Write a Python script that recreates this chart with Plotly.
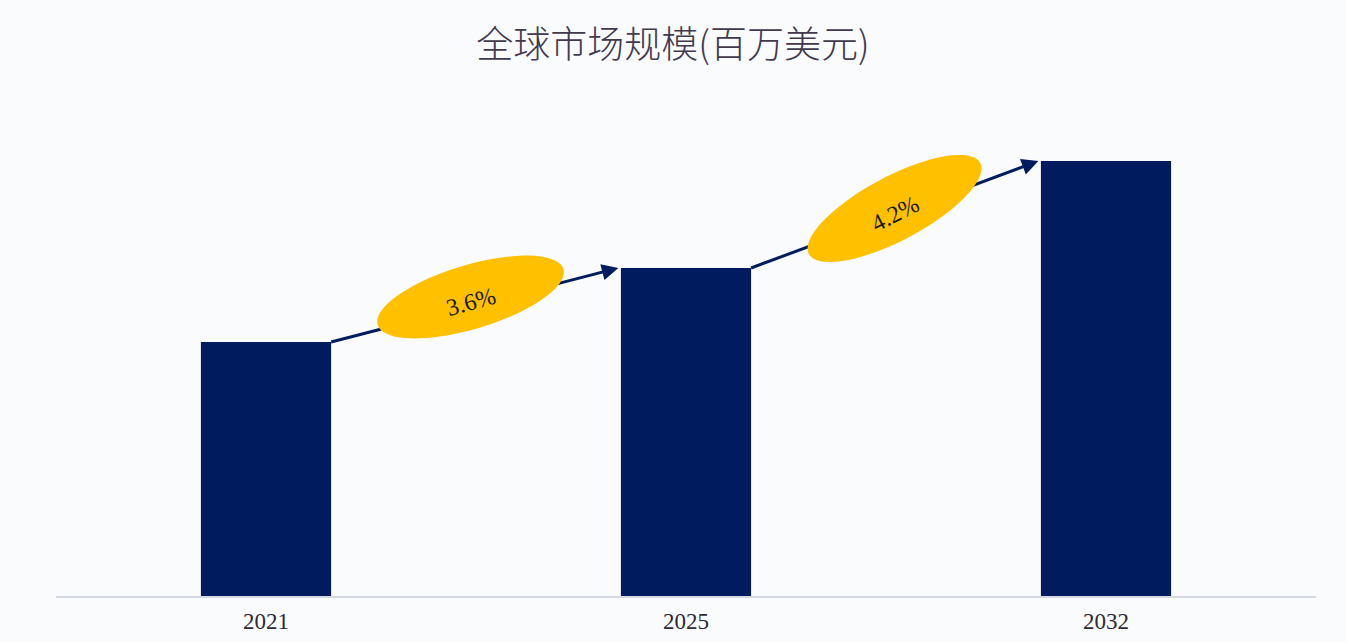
import numpy as np
import plotly.graph_objects as go

# data
years = ["2021", "2025", "2032"]
market_size = [2540, 3280, 4350]
cagr_labels = ["3.6%", "4.2%"]

title = "全球市场规模(百万美元)"
bar_color = "#001c5e"
gold = "#ffc000"

W, H = 1346, 642
ml, mr, mt, mb = 56, 30, 96, 46
y_max = 5000
bar_w = 0.31

# pixel scales, used to draw the rotated ellipses in data units
px_x = (W - ml - mr) / len(years)
px_y = (H - mt - mb) / y_max

xs = list(range(len(years)))

fig = go.Figure()
fig.add_trace(go.Bar(x=xs, y=market_size, width=bar_w,
                     marker=dict(color=bar_color, line=dict(width=0)),
                     hoverinfo="x+y"))

shapes = []
annotations = []


def ellipse_path(cx, cy, a, b, ang):
    t = np.linspace(0, 2 * np.pi, 80)
    th = np.radians(ang)
    ex = a * np.cos(t) * np.cos(th) - b * np.sin(t) * np.sin(th)
    ey = a * np.cos(t) * np.sin(th) + b * np.sin(t) * np.cos(th)
    pts = ["%.4f,%.2f" % (cx + dx / px_x, cy + dy / px_y) for dx, dy in zip(ex, ey)]
    return "M " + " L ".join(pts) + " Z"


ell_angle = [16.7, 28]
ell_shift = [8, 6]     # pixels above the arrow line
ell_dx = [0, 4]        # pixels sideways
for i, lab in enumerate(cagr_labels):
    x0, y0 = xs[i] + bar_w / 2, market_size[i]
    x1, y1 = xs[i + 1] - bar_w / 2 - 0.006, market_size[i + 1]
    # arrow line
    shapes.append(dict(type="line", xref="x", yref="y", x0=x0, y0=y0, x1=x1 - 0.02,
                       y1=y0 + (y1 - y0) * (x1 - 0.02 - x0) / (x1 - x0),
                       line=dict(color=bar_color, width=3), layer="above"))
    # ellipse
    cx = (x0 + x1) / 2 - 0.01 + ell_dx[i] / px_x
    cy = (y0 + y1) / 2 + ell_shift[i] / px_y
    shapes.append(dict(type="path", xref="x", yref="y",
                       path=ellipse_path(cx, cy, 97, 32, ell_angle[i]),
                       fillcolor=gold, line=dict(width=0), layer="above"))
    # arrow head
    annotations.append(dict(x=x1, y=y1, xref="x", yref="y",
                            ax=x1 - 0.04, ay=y1 - (y1 - y0) * 0.04 / (x1 - x0),
                            axref="x", ayref="y", text="", showarrow=True,
                            arrowhead=2, arrowsize=1.1, arrowwidth=3,
                            arrowcolor=bar_color))
    annotations.append(dict(x=cx, y=cy - 5 / px_y, xref="x", yref="y", text=lab,
                            showarrow=False, textangle=-ell_angle[i] + 1,
                            font=dict(family="Liberation Serif", size=24, color="#1a1a1a")))

fig.update_layout(
    width=W, height=H,
    margin=dict(l=ml, r=mr, t=mt, b=mb),
    paper_bgcolor="#fafbfd",
    plot_bgcolor="#fafbfd",
    showlegend=False,
    title=dict(text=title, x=0.5, xanchor="center", y=1 - 45 / H, yanchor="middle",
               yref="container",
               font=dict(family="Noto Sans CJK SC", size=37, color="#43394f", weight=300)),
    shapes=shapes,
    annotations=annotations,
    bargap=0.69,
)
fig.update_xaxes(range=[-0.5, len(years) - 0.5], tickvals=xs, ticktext=years,
                 showgrid=False, zeroline=False, showline=True, automargin=False,
                 linecolor="#d3d9e2", linewidth=1.5,
                 ticks="outside", ticklen=4, tickcolor="rgba(0,0,0,0)",
                 tickfont=dict(family="Liberation Serif", size=23, color="#2e2a33"))
fig.update_yaxes(range=[0, y_max], visible=False)

fig.write_html("out.html", config={"displayModeBar": False},
               post_script="document.body.style.margin='0';")
